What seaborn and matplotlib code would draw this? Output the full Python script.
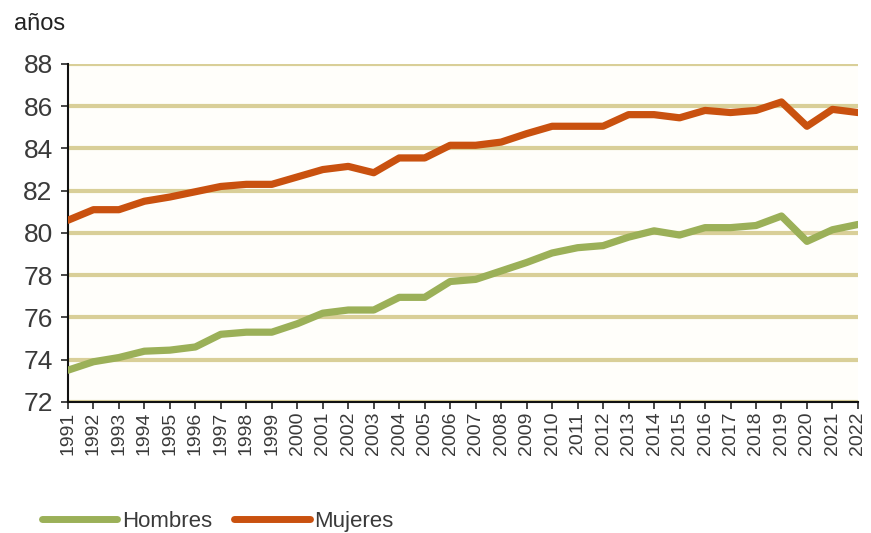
import pandas as pd
import seaborn as sns
import matplotlib.pyplot as plt

# Esperanza de vida al nacer (años)
years = list(range(1991, 2023))
hombres = [73.5, 73.9, 74.1, 74.4, 74.45, 74.6, 75.2, 75.3, 75.3, 75.7,
           76.2, 76.35, 76.35, 76.95, 76.95, 77.7, 77.8, 78.2, 78.6, 79.05,
           79.3, 79.4, 79.8, 80.1, 79.9, 80.25, 80.25, 80.35, 80.8, 79.6,
           80.15, 80.4]
mujeres = [80.6, 81.1, 81.1, 81.5, 81.7, 81.95, 82.2, 82.3, 82.3, 82.65,
           83.0, 83.15, 82.85, 83.55, 83.55, 84.15, 84.15, 84.3, 84.7, 85.05,
           85.05, 85.05, 85.6, 85.6, 85.45, 85.8, 85.7, 85.8, 86.2, 85.05,
           85.85, 85.7]
series_names = ["Hombres", "Mujeres"]
y_ticks = [72, 74, 76, 78, 80, 82, 84, 86, 88]

df = pd.DataFrame({"year": years * 2,
                   "value": hombres + mujeres,
                   "sexo": ["Hombres"] * len(years) + ["Mujeres"] * len(years)})

sns.set_style("white")
plt.rcParams['font.family'] = ['Liberation Sans', 'DejaVu Sans']

fig = plt.figure(figsize=(8.71, 5.33), dpi=100)
fig.patch.set_facecolor("white")
ax = fig.add_axes([0.078, 0.246, 0.907, 0.634])
ax.set_facecolor("#fffefa")

sns.lineplot(data=df, x="year", y="value", hue="sexo", hue_order=series_names,
             palette={"Hombres": "#9bb058", "Mujeres": "#c9510f"},
             linewidth=5.2, ax=ax, legend=False, zorder=3)

ax.set_xlim(years[0], years[-1])
ax.set_ylim(y_ticks[0], y_ticks[-1])
ax.set_yticks(y_ticks)
ax.set_xticks(years)
ax.set_xticklabels([str(y) for y in years], rotation=90, fontsize=14, color="#3a3a3a")
ax.tick_params(axis="y", labelsize=19, labelcolor="#3a3a3a", length=5, width=1.2,
               direction="out", left=True, pad=6)
ax.tick_params(axis="x", length=5, width=1.2, direction="out", bottom=True, pad=2)

ax.yaxis.grid(True, color="#d9cf98", linewidth=3)
ax.set_axisbelow(True)
for side in ["top", "right"]:
    ax.spines[side].set_visible(False)
for side in ["left", "bottom"]:
    ax.spines[side].set_color("#111111")
    ax.spines[side].set_linewidth(1.5)
ax.set_xlabel("")
ax.set_ylabel("")

fig.text(0.016, 0.955, "años", fontsize=17, color="#222222", va="center", ha="left")

handles = [plt.Line2D([], [], color="#9bb058", linewidth=5),
           plt.Line2D([], [], color="#c9510f", linewidth=5)]
fig.legend(handles, series_names, loc="center left", bbox_to_anchor=(0.025, 0.022),
           ncol=2, frameon=False, fontsize=16, handlelength=3.4, handletextpad=0.2,
           columnspacing=1.0, labelcolor="#3a3a3a")

fig.savefig("out.png", dpi=100)
